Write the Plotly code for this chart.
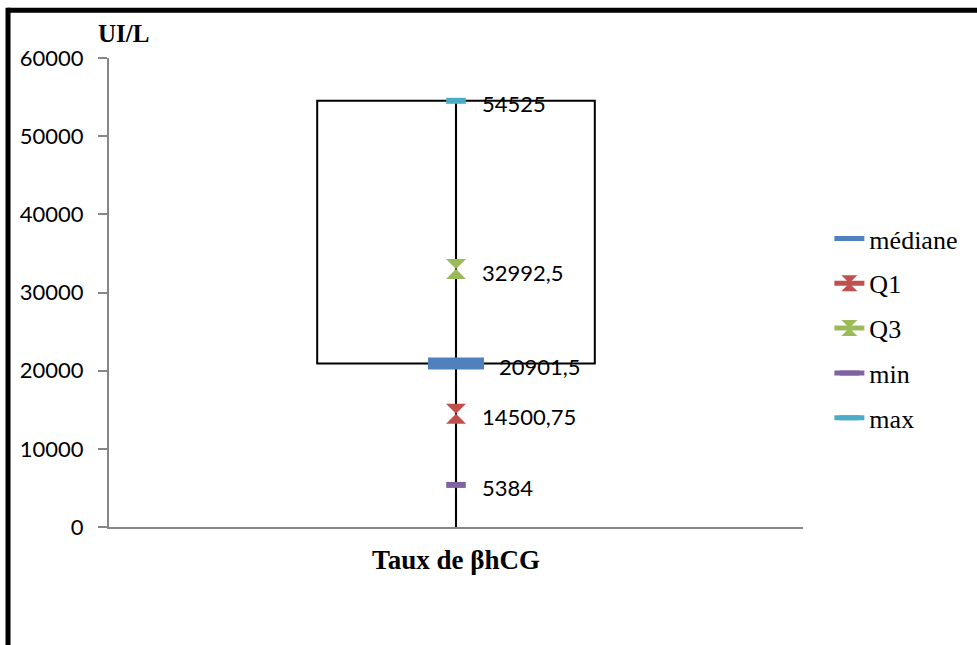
import plotly.graph_objects as go

category = ["Taux de βhCG"]
series_names = ["médiane", "Q1", "Q3", "min", "max"]
series_values = [20901.5, 14500.75, 32992.5, 5384, 54525]
series_colors = ["#4F81BD", "#C0504D", "#9BBB59", "#8064A2", "#4BACC6"]
y_ticks = [0, 10000, 20000, 30000, 40000, 50000, 60000]
y_unit = "UI/L"

vals = dict(zip(series_names, series_values))


def fr(v):
    s = ("%f" % v).rstrip("0").rstrip(".")
    return s.replace(".", ",")


fig = go.Figure()

# up bar (box) from médiane to max
fig.add_trace(go.Bar(
    x=category, y=[vals["max"] - vals["médiane"]], base=[vals["médiane"]],
    width=0.4, marker=dict(color="rgba(0,0,0,0)", line=dict(color="black", width=2)),
    showlegend=False, hoverinfo="skip"))
# high-low line
fig.add_trace(go.Bar(
    x=category, y=[vals["max"]], width=0.003,
    marker=dict(color="black", line=dict(width=0)),
    showlegend=False, hoverinfo="skip"))

marker_specs = {
    "médiane": dict(symbol="line-ew", size=40, line=dict(width=12)),
    "Q1": dict(symbol="hourglass", size=20, line=dict(width=0)),
    "Q3": dict(symbol="hourglass", size=20, line=dict(width=0)),
    "min": dict(symbol="line-ew", size=14, line=dict(width=6)),
    "max": dict(symbol="line-ew", size=14, line=dict(width=6)),
}

for i, (name, v, c) in enumerate(zip(series_names, series_values, series_colors)):
    spec = marker_specs[name]
    fig.add_trace(go.Scatter(
        x=category, y=[v], name=name, mode="lines+markers",
        line=dict(color=c, width=5),
        marker=dict(symbol=spec["symbol"], size=spec["size"], color=c,
                    line=dict(color=c, width=spec["line"]["width"])),
        legendgroup=name))
    fig.add_annotation(
        x=category[0], y=v, text=fr(v), showarrow=False,
        xanchor="left", yanchor="middle",
        xshift=41 if name == "médiane" else 24, yshift=-3,
        font=dict(family="Lato", size=22, color="black"))

fig.add_annotation(
    xref="paper", yref="paper", x=-0.019, y=1.052, text="<b>" + y_unit + "</b>",
    showarrow=False, xanchor="left", yanchor="middle",
    font=dict(family="Liberation Serif", size=25, color="black"))

# frame lines (top and left)
fig.add_shape(type="line", xref="paper", yref="paper", x0=-0.146, x1=1.3, y0=1.102, y1=1.102,
              line=dict(color="black", width=5))
fig.add_shape(type="line", xref="paper", yref="paper", x0=-0.1455, x1=-0.1455, y0=1.107, y1=-0.3,
              line=dict(color="black", width=5))

fig.update_layout(
    width=977, height=645,
    margin=dict(l=109, r=174, t=57.5, b=118),
    paper_bgcolor="white", plot_bgcolor="white",
    barmode="overlay",
    showlegend=True,
    legend=dict(x=1.038, y=0.665, xanchor="left", yanchor="top",
                font=dict(family="Liberation Serif", size=26, color="black"),
                traceorder="grouped", tracegroupgap=8, itemwidth=30,
                bgcolor="rgba(0,0,0,0)"),
    xaxis=dict(range=[-0.5, 0.5], showline=True, linecolor="#868686", linewidth=2,
               showgrid=False, zeroline=False, ticks="outside", ticklen=8,
               tickcolor="rgba(0,0,0,0)",
               tickfont=dict(family="Liberation Serif", size=27, color="black", weight="bold")),
    yaxis=dict(range=[0, 60000], tickvals=y_ticks, tickformat="d", showline=True,
               linecolor="#868686",
               linewidth=2, showgrid=False, zeroline=False, ticks="outside", ticklen=9,
               tickcolor="#868686", tickwidth=2, ticklabelstandoff=10,
               tickfont=dict(family="Lato", size=22, color="black")),
)

fig.write_html("out.html")
